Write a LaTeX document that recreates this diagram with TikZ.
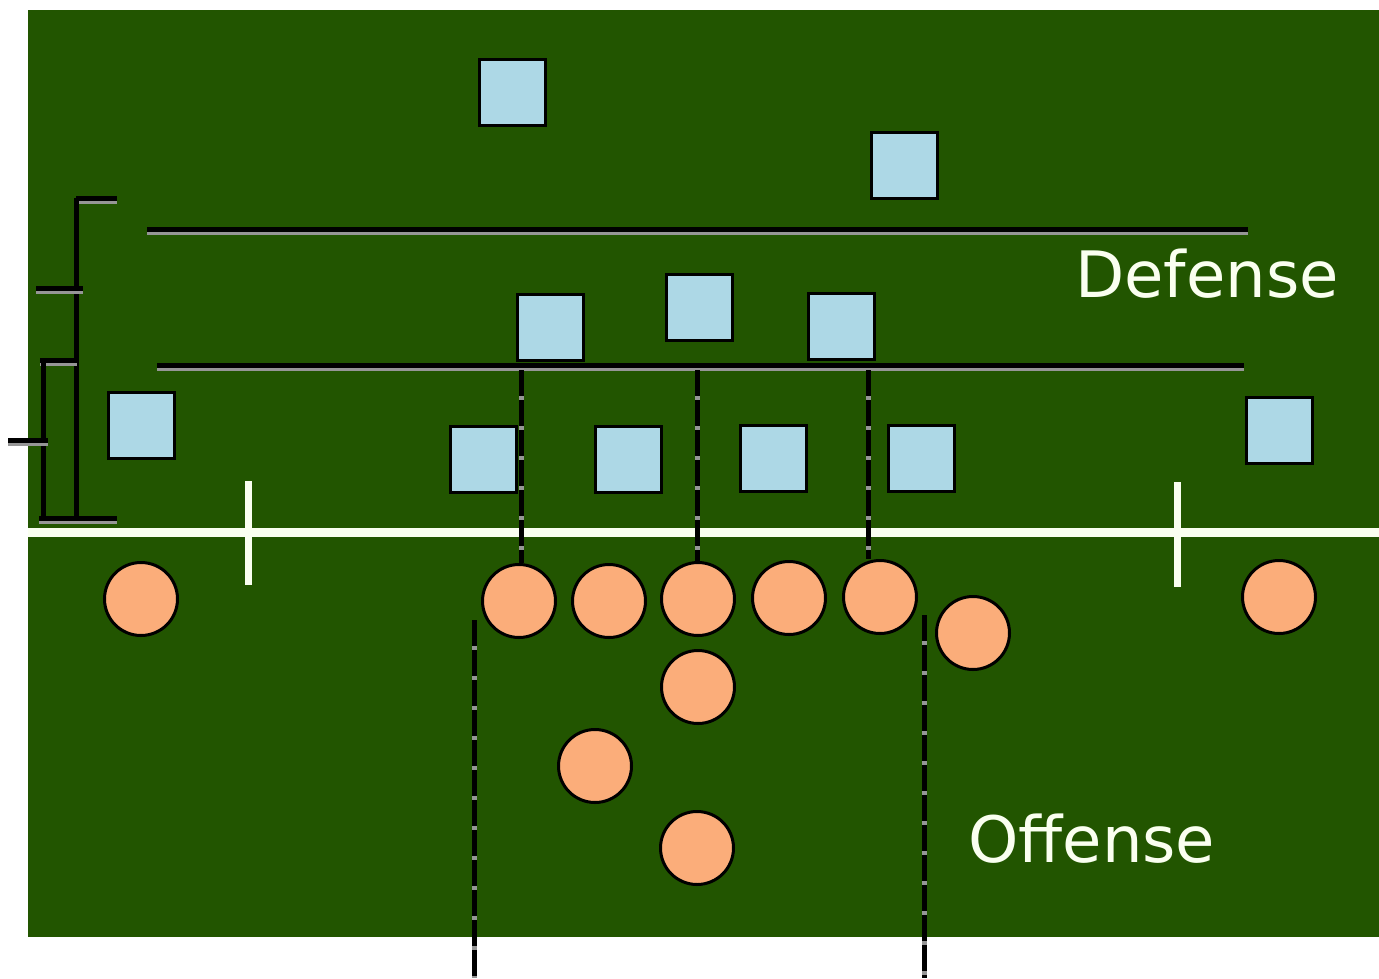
\documentclass[tikz,border=0pt]{standalone}
\usepackage{fontspec}
\setmainfont{DejaVu Sans}
\definecolor{fieldgreen}{RGB}{34,85,0}
\definecolor{defblue}{RGB}{173,216,230}
\definecolor{offorange}{RGB}{251,173,122}
\definecolor{chalk}{RGB}{250,255,240}
\definecolor{shadowgray}{RGB}{150,150,150}
\tikzstyle{every node}=[inner sep=0pt]
\tikzstyle{defender}=[draw=black,fill=defblue,shape=rectangle,line width=3pt,minimum size=66pt]
\tikzstyle{player}=[draw=black,fill=offorange,shape=circle,line width=3pt,minimum size=73pt]
\tikzstyle{depthline}=[line width=5pt,preaction={draw=shadowgray,line width=3.5pt,transform canvas={yshift=-4.5pt}}]
\tikzstyle{gapline}=[line width=5pt,dash pattern=on 26pt off 4pt,preaction={draw=shadowgray,line width=5pt,solid}]
\tikzstyle{label}=[text=chalk,font=\fontsize{64}{70}\selectfont,anchor=base west]

\begin{document}
\begin{tikzpicture}[x=1pt, y=-1pt]
\useasboundingbox (0,0) rectangle (1379,978);
\fill[fieldgreen] (28,10) rectangle (1379,937);
% line of scrimmage and hashes
\draw[chalk, line width=9pt] (28,532) -- (1379,532);
\draw[chalk, line width=7pt] (248,481) -- (248,585);
\draw[chalk, line width=7pt] (1177,482) -- (1177,587);
% depth lines
\draw[depthline] (147,229) -- (1248,229);
\draw[depthline] (157,365) -- (1244,365);
% bracket on the left
\draw[depthline] (76,198) -- (117,198);
\draw[depthline] (76,198) -- (76,518);
\draw[depthline] (36,288) -- (83,288);
\draw[depthline] (40,360) -- (77,360);
\draw[depthline] (43,360) -- (43,518);
\draw[depthline] (8,440) -- (48,440);
\draw[depthline] (39,518) -- (117,518);
% defense
\node[defender] (s1) at (512,92) {};
\node[defender] (s2) at (904,165) {};
\node[defender] (lb1) at (550,327) {};
\node[defender] (lb2) at (699,307) {};
\node[defender] (lb3) at (841,326) {};
\node[defender] (cb1) at (141,425) {};
\node[defender] (dl1) at (483,459) {};
\node[defender] (dl2) at (628,459) {};
\node[defender] (dl3) at (773,458) {};
\node[defender] (dl4) at (921,458) {};
\node[defender] (cb2) at (1279,430) {};
% offense
\node[player] (wr1) at (141,599) {};
\node[player] (lt) at (519,601) {};
\node[player] (lg) at (609,601) {};
\node[player] (c) at (698,599) {};
\node[player] (rg) at (789,598) {};
\node[player] (rt) at (880,597) {};
\node[player] (te) at (973,633) {};
\node[player] (wr2) at (1279,597) {};
\node[player] (qb) at (698,687) {};
\node[player] (fb) at (595,766) {};
\node[player] (rb) at (697,848) {};
% gaps
\coordinate (g1) at (521,370);
\coordinate (g2) at (697,370);
\coordinate (g3) at (868,370);
\draw[gapline] (g1) -- (g1 |- lt.north);
\draw[gapline] (g2) -- (g2 |- c.north);
\draw[gapline] (g3) -- (g3 |- rt.north);
\coordinate (b1) at (474,620);
\coordinate (b2) at (924,615);
\draw[gapline] (b1) -- (474,978);
\draw[gapline] (b2) -- (924,978);
% labels
\node[label] (def) at (1075,297) {Defense};
\node[label] (off) at (968,862) {Offense};
\end{tikzpicture}
\end{document}
